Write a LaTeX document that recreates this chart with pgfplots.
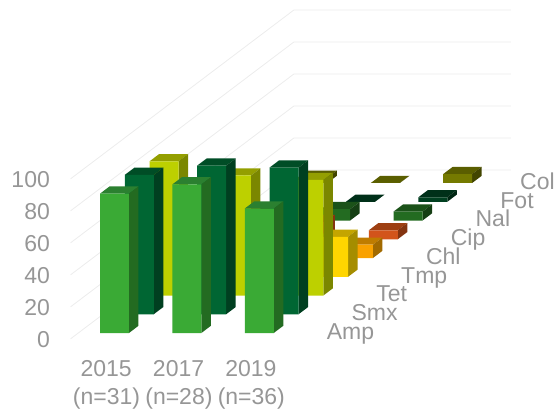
\documentclass[border=0pt]{standalone}
\usepackage{fontspec}
\setmainfont{Liberation Sans}
\usepackage{pgfplots}
\pgfplotsset{compat=1.18}

% Face colours of each drug: front, side, top
\definecolor{amp-f}{HTML}{3AAA35}\definecolor{amp-s}{HTML}{236B21}\definecolor{amp-t}{HTML}{2B8030}
\definecolor{smx-f}{HTML}{006633}\definecolor{smx-s}{HTML}{003F20}\definecolor{smx-t}{HTML}{004D26}
\definecolor{tet-f}{HTML}{BDD000}\definecolor{tet-s}{HTML}{7B8700}\definecolor{tet-t}{HTML}{949F00}
\definecolor{tmp-f}{HTML}{FFD500}\definecolor{tmp-s}{HTML}{A58D00}\definecolor{tmp-t}{HTML}{C4A500}
\definecolor{chl-f}{HTML}{F9A100}\definecolor{chl-s}{HTML}{A26A00}\definecolor{chl-t}{HTML}{BF7C00}
\definecolor{cip-f}{HTML}{D2541B}\definecolor{cip-s}{HTML}{843410}\definecolor{cip-t}{HTML}{9E3F12}
\definecolor{nal-f}{HTML}{236B21}\definecolor{nal-s}{HTML}{153F14}\definecolor{nal-t}{HTML}{1B5219}
\definecolor{fot-f}{HTML}{003F20}\definecolor{fot-s}{HTML}{002613}\definecolor{fot-t}{HTML}{003019}
\definecolor{col-f}{HTML}{757A00}\definecolor{col-s}{HTML}{424500}\definecolor{col-t}{HTML}{5A5E00}
\definecolor{labelgray}{HTML}{969696}
\definecolor{wallgray}{HTML}{ECECEC}

% One column: year slot #1, drug row #2, percentage #3, colour prefix #4
\newcommand{\drawbar}[4]{%
  \pgfmathsetmacro{\xa}{#1}\pgfmathsetmacro{\xb}{#1+0.4}%
  \pgfmathsetmacro{\ya}{#2}\pgfmathsetmacro{\yb}{#2+0.383}%
  \addplot3[draw=none,fill=#4-t,no markers,forget plot] coordinates
    {(\xa,\ya,#3)(\xb,\ya,#3)(\xb,\yb,#3)(\xa,\yb,#3)(\xa,\ya,#3)};
  \addplot3[draw=none,fill=#4-s,no markers,forget plot] coordinates
    {(\xb,\ya,0)(\xb,\yb,0)(\xb,\yb,#3)(\xb,\ya,#3)(\xb,\ya,0)};
  \addplot3[draw=none,fill=#4-f,no markers,forget plot] coordinates
    {(\xa,\ya,0)(\xb,\ya,0)(\xb,\ya,#3)(\xa,\ya,#3)(\xa,\ya,0)};
}
% One drug across the three survey years
\newcommand{\drawrow}[5]{\drawbar{0}{#1}{#2}{#5}\drawbar{1}{#1}{#3}{#5}\drawbar{2}{#1}{#4}{#5}}

\tikzset{lab/.style={font=\fontsize{23}{27}\selectfont, text=labelgray, inner sep=0pt}}

\begin{document}
\begin{tikzpicture}
\path[use as bounding box] (0pt,0pt) rectangle (557pt,410pt);
\begin{axis}[
  at={(100pt,77pt)}, anchor=origin,
  x={(72.4pt,0pt)}, y={(24.8pt,18.75pt)}, z={(0pt,1.6pt)},
  xmin=-0.3, xmax=2.7, ymin=-0.31, ymax=8.69, zmin=0, zmax=100,
  hide axis, clip=false,
]
% Grid on the left and back walls
\pgfplotsinvokeforeach{0,20,40,60,80,100}{
  \addplot3[draw=wallgray,line width=0.8pt,no markers,forget plot] coordinates
    {(-0.3,-0.31,#1)(-0.3,8.69,#1)(2.7,8.69,#1)};
}
% Columns, painted from the back row to the front
\drawrow{8}{3.2}{0}{5.6}{col}
\drawrow{7}{0}{0}{2.8}{fot}
\drawrow{6}{6.5}{7.1}{5.6}{nal}
\drawrow{5}{6.5}{10.7}{5.6}{cip}
\drawrow{4}{9.7}{7.1}{8.3}{chl}
\drawrow{3}{19.4}{14.3}{25}{tmp}
\drawrow{2}{83.9}{75}{72.2}{tet}
\drawrow{1}{87.1}{92.9}{91.7}{smx}
\drawrow{0}{87.1}{92.9}{77.8}{amp}

% Percentage scale
\pgfplotsinvokeforeach{0,20,40,60,80,100}{
  \node[lab,anchor=base east] at (axis cs:-0.69,0,#1-9.2) {#1};
}
% Survey years
\node[lab,anchor=base] at (axis cs:0.085,0,-27.4) {2015};
\node[lab,anchor=base] at (axis cs:1.085,0,-27.4) {2017};
\node[lab,anchor=base] at (axis cs:2.085,0,-27.4) {2019};
\node[lab,anchor=base] at (axis cs:0.09,0,-44.5) {(n=31)};
\node[lab,anchor=base] at (axis cs:1.09,0,-44.5) {(n=28)};
\node[lab,anchor=base] at (axis cs:2.09,0,-44.5) {(n=36)};
% Drug names
\node[lab,anchor=base west] at (axis cs:3.13,0,-4) {Amp};
\node[lab,anchor=base west] at (axis cs:3.13,1,-4) {Smx};
\node[lab,anchor=base west] at (axis cs:3.13,2,-4) {Tet};
\node[lab,anchor=base west] at (axis cs:3.13,3,-4) {Tmp};
\node[lab,anchor=base west] at (axis cs:3.13,4,-4) {Chl};
\node[lab,anchor=base west] at (axis cs:3.13,5,-4) {Cip};
\node[lab,anchor=base west] at (axis cs:3.13,6,-4) {Nal};
\node[lab,anchor=base west] at (axis cs:3.13,7,-4) {Fot};
\node[lab,anchor=base west] at (axis cs:3.06,8,-4) {Col};
\end{axis}
\end{tikzpicture}
\end{document}
